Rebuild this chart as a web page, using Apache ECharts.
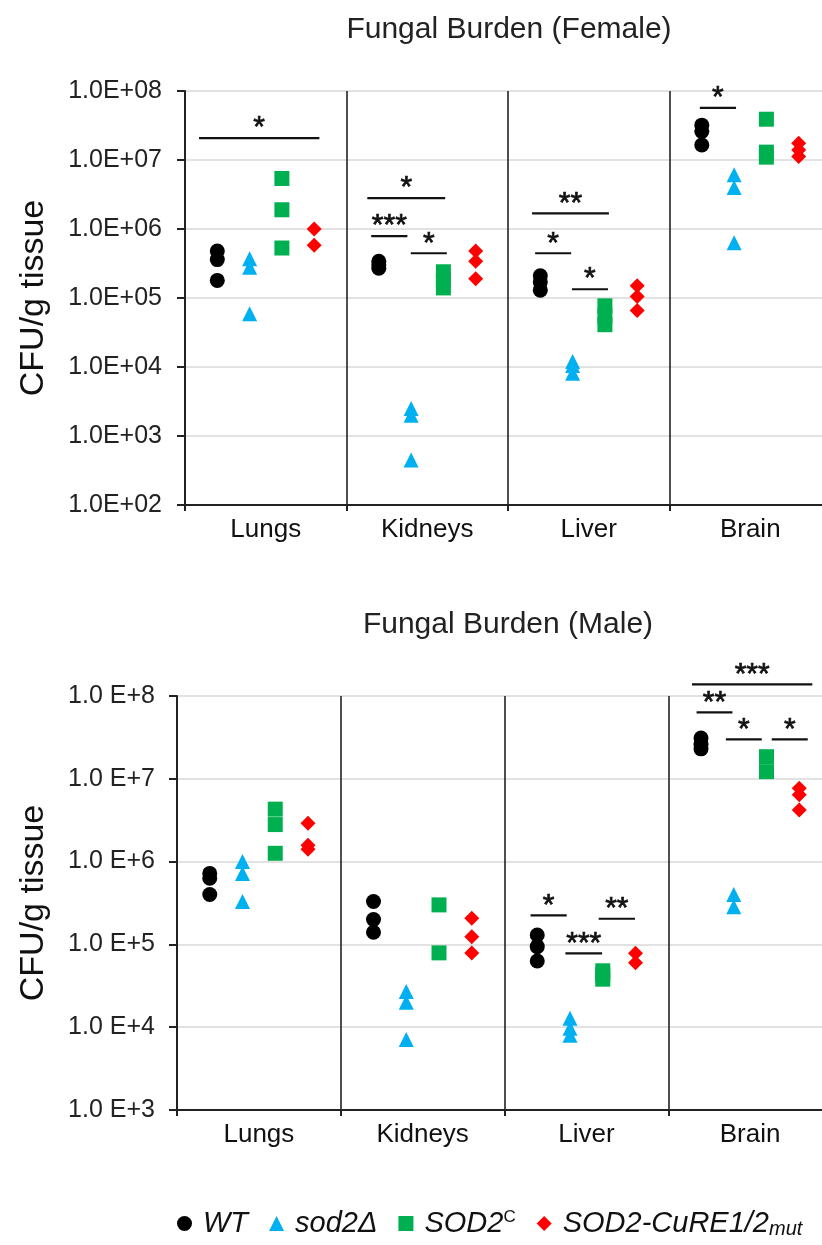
<!DOCTYPE html>
<html>
<head>
<meta charset="utf-8">
<script src="https://cdn.jsdelivr.net/npm/echarts@6/dist/echarts.min.js"></script>
<style>
html, body { margin: 0; padding: 0; background: #fff; }
#chart { width: 822px; height: 1245px; }
</style>
</head>
<body>
<div id="chart"></div>
<script>
var organs = ["Lungs", "Kidneys", "Liver", "Brain"];
var seriesNames = ["WT", "sod2\u0394", "SOD2C", "SOD2-CuRE1/2mut"];
var colors = ["#000000", "#00b0f0", "#00b050", "#ff0000"];
var symbols = ["circle", "triangle", "rect", "diamond"];
var offsets = [0.2, 0.4, 0.6, 0.8];

// CFU/g per organ (Lungs, Kidneys, Liver, Brain), female mice
var femaleWT = [[4.8e5, 3.6e5, 1.8e5], [3.4e5, 3.0e5, 2.7e5], [2.1e5, 1.7e5, 1.3e5], [3.2e7, 2.6e7, 1.65e7]];
var femaleSod2 = [[3.7e5, 2.8e5, 5.9e4], [2.5e3, 2.0e3, 4.5e2], [1.2e4, 1.05e4, 8.1e3], [6.1e6, 4.0e6, 6.3e5]];
var femaleSOD2C = [[5.4e6, 1.9e6, 5.3e5], [2.4e5, 1.8e5, 1.4e5], [7.7e4, 5.5e4, 4.1e4], [3.9e7, 1.3e7, 1.1e7]];
var femaleMut = [[1.0e6, 5.8e5], [4.8e5, 3.4e5, 1.9e5], [1.5e5, 1.05e5, 6.6e4], [1.75e7, 1.4e7, 1.12e7]];

// male mice
var maleWT = [[7.2e5, 6.3e5, 4.0e5], [3.3e5, 2.0e5, 1.4e5], [1.3e5, 9.4e4, 6.3e4], [3.1e7, 2.6e7, 2.3e7]];
var maleSod2 = [[1.0e6, 7.2e5, 3.3e5], [2.7e4, 2.0e4, 7.1e3], [1.28e4, 9.7e3, 8.0e3], [4.0e5, 2.85e5]];
var maleSOD2C = [[4.3e6, 2.8e6, 1.26e6], [3.0e5, 7.9e4], [4.8e4, 4.3e4, 3.8e4], [1.85e7, 1.22e7]];
var maleMut = [[2.9e6, 1.58e6, 1.41e6], [2.07e5, 1.24e5, 7.9e4], [7.8e4, 6.0e4], [7.7e6, 6.4e6, 4.2e6]];

// significance bars: [x start, x end, height, stars]
var femaleSig = [
	[0.087, 0.832, 2.07e7, "*"],
	[1.129, 1.611, 2.8e6, "*"],
	[1.153, 1.377, 7.9e5, "***"],
	[1.398, 1.621, 4.45e5, "*"],
	[2.149, 2.625, 1.69e6, "**"],
	[2.168, 2.391, 4.45e5, "*"],
	[2.396, 2.619, 1.34e5, "*"],
	[3.188, 3.412, 5.7e7, "*"]
];
var maleSig = [
	[3.145, 3.880, 1.38e8, "***"],
	[3.173, 3.392, 6.35e7, "**"],
	[3.352, 3.571, 3.0e7, "*"],
	[3.632, 3.852, 3.0e7, "*"],
	[2.159, 2.380, 2.24e5, "*"],
	[2.372, 2.596, 7.8e4, "***"],
	[2.575, 2.797, 2.04e5, "**"]
];

var font = "Liberation Sans, Arial, sans-serif";
var myChart = echarts.init(document.getElementById("chart"));

function points(groups, k) {
	var arr = [];
	groups.forEach(function (vals, i) {
		vals.forEach(function (v) {
			arr.push([i + offsets[k], v]);
		});
	});
	return arr;
}

function sigSeries(sig, idx) {
	return {
		type: "custom",
		xAxisIndex: idx * 2 + 1,
		yAxisIndex: idx,
		clip: false,
		silent: true,
		z: 5,
		data: sig.map(function (s) { return [s[0], s[1], s[2]]; }),
		encode: { x: [0, 1], y: 2 },
		renderItem: function (params, api) {
			var p1 = api.coord([api.value(0), api.value(2)]);
			var p2 = api.coord([api.value(1), api.value(2)]);
			return {
				type: "group",
				children: [{
					type: "line",
					shape: { x1: p1[0], y1: p1[1], x2: p2[0], y2: p2[1] },
					style: { stroke: "#111", lineWidth: 2.2 }
				}, {
					type: "text",
					x: (p1[0] + p2[0]) / 2,
					y: p1[1] - 10,
					style: {
						text: sig[params.dataIndex][3],
						fontSize: 30,
						fontFamily: font,
						fill: "#111",
						stroke: "#111",
						lineWidth: 0.7,
						align: "center",
						verticalAlign: "middle"
					}
				}]
			};
		}
	};
}

function yAxisOf(idx, min, max, top) {
	return {
		type: "log",
		logBase: 10,
		gridIndex: idx,
		min: min,
		max: max,
		name: "CFU/g tissue",
		nameLocation: "middle",
		nameGap: idx == 0 ? 122 : 114,
		nameTextStyle: { fontSize: 34, fontFamily: font, color: "#111", padding: [0, 0, 12, 0] },
		axisLine: { show: true, lineStyle: { color: "#222", width: 2 } },
		axisTick: { show: true, length: 8, lineStyle: { color: "#222", width: 2 } },
		splitLine: { show: true, lineStyle: { color: "#d9d9d9", width: 1.5 } },
		axisLabel: {
			fontSize: 25,
			fontFamily: font,
			color: "#222",
			margin: idx == 0 ? 23 : 22,
			formatter: function (v) {
				var e = Math.round(Math.log(v) / Math.LN10);
				return top ? "1.0E+" + (e < 10 ? "0" : "") + e : "1.0 E+" + e;
			}
		}
	};
}

function catAxis(idx) {
	return {
		type: "category",
		gridIndex: idx,
		data: organs,
		boundaryGap: true,
		axisLine: { lineStyle: { color: "#222", width: 2 } },
		axisTick: { show: true, length: 6, lineStyle: { color: "#222", width: 2 } },
		splitLine: { show: true, lineStyle: { color: "#222", width: 1.6 } },
		axisLabel: { fontSize: 26, fontFamily: font, color: "#111", margin: 12 }
	};
}

function valAxis(idx) {
	return { type: "value", gridIndex: idx, min: 0, max: 4, show: false };
}

var groupsF = [femaleWT, femaleSod2, femaleSOD2C, femaleMut];
var groupsM = [maleWT, maleSod2, maleSOD2C, maleMut];
var series = [];
[groupsF, groupsM].forEach(function (groups, g) {
	groups.forEach(function (grp, k) {
		series.push({
			type: "scatter",
			name: seriesNames[k],
			xAxisIndex: g * 2 + 1,
			yAxisIndex: g,
			symbol: symbols[k],
			symbolSize: 15,
			itemStyle: { color: colors[k], opacity: 1 },
			z: 4,
			data: points(grp, k)
		});
	});
});
series.push(sigSeries(femaleSig, 0));
series.push(sigSeries(maleSig, 1));

var legendText = {
	"WT": "{i|WT}",
	"sod2\u0394": "{i|sod2\u0394}",
	"SOD2C": "{i|SOD2}{sup|C}",
	"SOD2-CuRE1/2mut": "{i|SOD2-CuRE1/2}{sub|mut}"
};

var option = {
	backgroundColor: "#fff",
	animation: false,
	title: [{
		text: "Fungal Burden (Female)",
		left: 504,
		top: 10,
		textAlign: "center",
		textStyle: { fontSize: 30, fontWeight: "normal", fontFamily: font, color: "#222" }
	}, {
		text: "Fungal Burden (Male)",
		left: 503,
		top: 605,
		textAlign: "center",
		textStyle: { fontSize: 30, fontWeight: "normal", fontFamily: font, color: "#222" }
	}],
	legend: {
		data: seriesNames,
		left: 172,
		top: 1204,
		itemWidth: 15,
		itemHeight: 15,
		itemGap: 21,
		formatter: function (name) { return legendText[name]; },
		textStyle: {
			rich: {
				i: { fontSize: 29, fontStyle: "italic", fontFamily: font, color: "#111", padding: [0, 0, 0, 6] },
				sup: { fontSize: 17, fontFamily: font, color: "#111", verticalAlign: "top" },
				sub: { fontSize: 20, fontStyle: "italic", fontFamily: font, color: "#111", verticalAlign: "bottom", padding: [12, 0, 0, 0] }
			}
		}
	},
	grid: [
		{ left: 185, top: 91, height: 414, width: 646, outerBoundsMode: "none", containLabel: false },
		{ left: 177, top: 696, height: 414, width: 655, outerBoundsMode: "none", containLabel: false }
	],
	xAxis: [catAxis(0), valAxis(0), catAxis(1), valAxis(1)],
	yAxis: [yAxisOf(0, 1e2, 1e8, true), yAxisOf(1, 1e3, 1e8, false)],
	series: series
};
myChart.setOption(option);
</script>
</body>
</html>
